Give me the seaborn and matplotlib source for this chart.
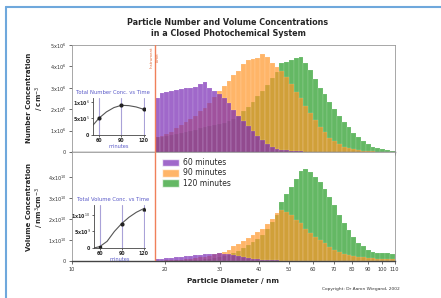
import numpy as np
import pandas as pd
import matplotlib
matplotlib.use("Agg")
import matplotlib.pyplot as plt
from matplotlib.lines import Line2D
from matplotlib.patches import Patch
import seaborn as sns

# size bins: 50 log-spaced bins from the instrument limit to 110 nm
n_bins = 50
instrument_limit = 18.5
d_max = 110.0

times = ["60 minutes", "90 minutes", "120 minutes"]

# dN/dlogDp, in units of 1e6 cm^-3
number_60 = [2.5, 2.75, 2.8, 2.85, 2.9, 2.95, 3.0, 3.0, 3.05, 3.2,
             3.25, 3.0, 2.85, 2.7, 2.5, 2.3, 1.95, 1.7, 1.45, 1.2,
             1.0, 0.75, 0.55, 0.35, 0.22, 0.15, 0.1, 0.07, 0.05, 0.04,
             0.03, 0.02, 0.01, 0.01, 0.01, 0, 0, 0, 0, 0,
             0, 0, 0, 0, 0, 0, 0, 0, 0, 0]
number_90 = [0.7, 0.75, 0.85, 0.95, 1.1, 1.25, 1.4, 1.55, 1.7, 1.9,
             2.05, 2.3, 2.55, 2.85, 3.1, 3.3, 3.6, 3.8, 4.1, 4.3,
             4.35, 4.4, 4.6, 4.45, 4.15, 3.95, 3.8, 3.5, 3.2, 2.8,
             2.5, 2.15, 1.8, 1.5, 1.15, 0.95, 0.65, 0.5, 0.35, 0.25,
             0.18, 0.13, 0.08, 0.06, 0.04, 0.03, 0.02, 0.02, 0.01, 0.01]
number_120 = [0.7, 0.72, 0.75, 0.8, 0.85, 0.9, 0.95, 1.0, 1.05, 1.1,
              1.15, 1.2, 1.25, 1.3, 1.35, 1.45, 1.55, 1.7, 1.9, 2.1,
              2.35, 2.6, 2.85, 3.15, 3.45, 3.75, 4.15, 4.2, 4.3, 4.4,
              4.45, 4.15, 3.85, 3.4, 3.0, 2.7, 2.35, 2.0, 1.7, 1.4,
              1.15, 0.9, 0.7, 0.5, 0.35, 0.25, 0.18, 0.12, 0.08, 0.05]

# dV/dlogDp, in units of 1e10 nm^3 cm^-3
volume_60 = [0.1, 0.12, 0.14, 0.16, 0.18, 0.2, 0.22, 0.25, 0.27, 0.3,
             0.32, 0.34, 0.35, 0.36, 0.35, 0.32, 0.28, 0.24, 0.2, 0.16,
             0.12, 0.09, 0.07, 0.05, 0.04, 0.03, 0.02, 0.02, 0.01, 0.01,
             0, 0, 0, 0, 0, 0, 0, 0, 0, 0,
             0, 0, 0, 0, 0, 0, 0, 0, 0, 0]
volume_90 = [0.01, 0.02, 0.03, 0.04, 0.05, 0.07, 0.09, 0.11, 0.14, 0.17,
             0.21, 0.26, 0.32, 0.38, 0.45, 0.55, 0.7, 0.82, 0.95, 1.08,
             1.25, 1.4, 1.55, 1.75, 2.0, 2.3, 2.45, 2.35, 2.2, 1.95,
             1.8, 1.55, 1.35, 1.15, 0.98, 0.85, 0.68, 0.55, 0.43, 0.35,
             0.3, 0.26, 0.2, 0.17, 0.14, 0.13, 0.11, 0.1, 0.09, 0.08]
volume_120 = [0.01, 0.01, 0.02, 0.02, 0.03, 0.03, 0.04, 0.05, 0.06, 0.07,
              0.08, 0.1, 0.13, 0.17, 0.22, 0.3, 0.4, 0.5, 0.62, 0.75,
              0.9, 1.05, 1.25, 1.55, 1.85, 2.2, 2.8, 3.2, 3.55, 3.9,
              4.3, 4.4, 4.25, 4.0, 3.75, 3.45, 3.05, 2.65, 2.2, 1.8,
              1.5, 1.15, 0.85, 0.7, 0.55, 0.45, 0.4, 0.38, 0.36, 0.34]

# inset curves: total concentration vs time
inset_minutes = [52, 60, 70, 80, 90, 100, 110, 120]
total_number = [0.3e6, 0.51e6, 0.7e6, 0.83e6, 0.9e6, 0.89e6, 0.85e6, 0.78e6]
total_volume = [0.0, 0.04e10, 0.2e10, 0.5e10, 0.74e10, 0.93e10, 1.08e10, 1.19e10]
sample_minutes = [60, 90, 120]

number_ticks = [0, 1, 2, 3, 4, 5]
number_labels = ["0"] + [f"{t}x10$^{{6}}$" for t in number_ticks[1:]]
volume_ticks = [0, 1, 2, 3, 4]
volume_labels = ["0"] + [f"{t}x10$^{{10}}$" for t in volume_ticks[1:]]
x_ticks = [10, 20, 30, 40, 50, 60, 70, 80, 90, 100, 110]

colors = {"60 minutes": "#7828b4", "90 minutes": "#ff9628", "120 minutes": "#229b22"}
alpha = 0.7

log_edges = np.linspace(np.log10(instrument_limit), np.log10(d_max), n_bins + 1)
centers = 10 ** ((log_edges[:-1] + log_edges[1:]) / 2)

df = pd.concat([
    pd.DataFrame({"diameter": centers, "time": t, "number": n, "volume": v})
    for t, n, v in zip(times, [number_60, number_90, number_120],
                       [volume_60, volume_90, volume_120])
])

sns.set_style("white")
plt.rcParams["font.family"] = ["DejaVu Sans"]

fig = plt.figure(figsize=(4.41, 2.98), dpi=100)
ax_n = fig.add_axes([0.163, 0.490, 0.732, 0.359])
ax_v = fig.add_axes([0.163, 0.124, 0.732, 0.366], sharex=ax_n)

# layered histograms: 60 minutes ends up on top, 120 minutes at the back
for ax, col in [(ax_n, "number"), (ax_v, "volume")]:
    sns.histplot(data=df, x="diameter", weights=col, hue="time", hue_order=times,
                 bins=list(log_edges), log_scale=True, multiple="layer", element="bars",
                 palette=colors, alpha=alpha, edgecolor=(1, 1, 1, 0.3),
                 linewidth=0.3, legend=False, ax=ax)
    ax.axvline(instrument_limit, color="#f0805a", lw=1.0, zorder=5)
    ax.set_xlabel("")
    ax.set_ylabel("")
    for side in ["top", "right", "left"]:
        ax.spines[side].set_color("#999999")
        ax.spines[side].set_linewidth(0.6)
    ax.spines["bottom"].set_color("#444444")
    ax.spines["bottom"].set_linewidth(1.0)
    ax.tick_params(axis="both", which="both", direction="out", length=2.5,
                   width=0.6, color="#555555", labelsize=3.6, pad=1.5,
                   labelcolor="#333333", left=True, bottom=True)

ax_n.set_xlim(10, 110)
ax_n.set_ylim(0, 5)
ax_n.set_yticks(number_ticks, number_labels)
ax_n.tick_params(axis="x", labelbottom=False)
ax_v.set_ylim(0, 5.2)
ax_v.set_yticks(volume_ticks, volume_labels)
ax_v.set_xticks(x_ticks, [str(t) for t in x_ticks])
ax_v.xaxis.set_minor_formatter(matplotlib.ticker.NullFormatter())

ax_n.text(instrument_limit, 4.95, "Instrument\nLimit", rotation=90, ha="center",
          va="top", fontsize=2.8, color="#e06a3a", linespacing=1.6, zorder=6)

handles = [Patch(facecolor=colors[t], alpha=alpha, label=t) for t in times]
ax_v.legend(handles=handles, loc="upper left", bbox_to_anchor=(0.27, 0.97),
            frameon=False, fontsize=5.5, handlelength=2.2, handleheight=1.1,
            labelspacing=0.15, handletextpad=0.5, borderaxespad=0)


def draw_inset(rect, minutes, totals, markers, title, ticks, tick_labels, top):
    ax = fig.add_axes(rect)
    ax.patch.set_alpha(0)
    sns.lineplot(x=minutes, y=totals, color="#555555", lw=0.8, ax=ax)
    for m, mk in zip(sample_minutes, markers):
        ax.plot(m, totals[minutes.index(m)], marker=mk, ms=2, color="#222222")
        ax.axvline(m, color="#a9a2d8", lw=0.8, zorder=0)
    ax.set_xlim(52, 122)
    ax.set_ylim(0, top)
    ax.set_xticks(sample_minutes, [str(m) for m in sample_minutes])
    ax.set_yticks(ticks, tick_labels)
    for side in ["top", "right"]:
        ax.spines[side].set_visible(False)
    for side in ["left", "bottom"]:
        ax.spines[side].set_color("#444444")
        ax.spines[side].set_linewidth(0.6)
    ax.tick_params(axis="both", length=1.5, width=0.5, labelsize=3.4, pad=1,
                   left=True, bottom=True)
    for lab in ax.get_xticklabels() + ax.get_yticklabels():
        lab.set_fontweight("bold")
    ax.set_xlabel("minutes", fontsize=3.6, color="#5a5ac8", labelpad=0.5)
    ax.set_title(title, fontsize=3.8, color="#5a5ac8", pad=3, x=0.38)
    return ax


draw_inset([0.211, 0.547, 0.118, 0.124], inset_minutes, total_number, ["o", "o", "o"],
           "Total Number Conc. vs Time", [0, 0.5e6, 1e6],
           ["0", "5x10$^{5}$", "1x10$^{6}$"], 1.12e6)
draw_inset([0.213, 0.168, 0.116, 0.144], inset_minutes, total_volume, ["s", "o", "^"],
           "Total Volume Conc. vs Time", [0, 0.5e10, 1e10],
           ["0", "5x10$^{9}$", "1x10$^{10}$"], 1.3e10)

fig.text(0.517, 0.905, "Particle Number and Volume Concentrations\nin a Closed Photochemical System",
         ha="center", va="center", fontsize=5.8, fontweight="bold", linespacing=1.3)
fig.text(0.082, 0.67, "Number Concentration\n/ cm$^{-3}$", rotation=90, ha="center",
         va="center", fontsize=5.0, fontweight="bold", linespacing=1.2)
fig.text(0.082, 0.305, "Volume Concentration\n/ nm$^{3}$cm$^{-3}$", rotation=90, ha="center",
         va="center", fontsize=5.0, fontweight="bold", linespacing=1.2)
fig.text(0.528, 0.057, "Particle Diameter / nm", ha="center", va="center",
         fontsize=5.2, fontweight="bold")
fig.text(0.907, 0.03, "Copyright: Dr Aaron Wiegand, 2002", ha="right", va="center",
         fontsize=3.2, color="#333333")

# light blue frame on the left and top edges
frame = dict(color="#6fa8dc", lw=1.5, transform=fig.transFigure)
fig.add_artist(Line2D([0.014, 0.014], [0, 0.977], **frame))
fig.add_artist(Line2D([0.014, 1.0], [0.977, 0.977], **frame))

fig.savefig("out.png", dpi=100)
